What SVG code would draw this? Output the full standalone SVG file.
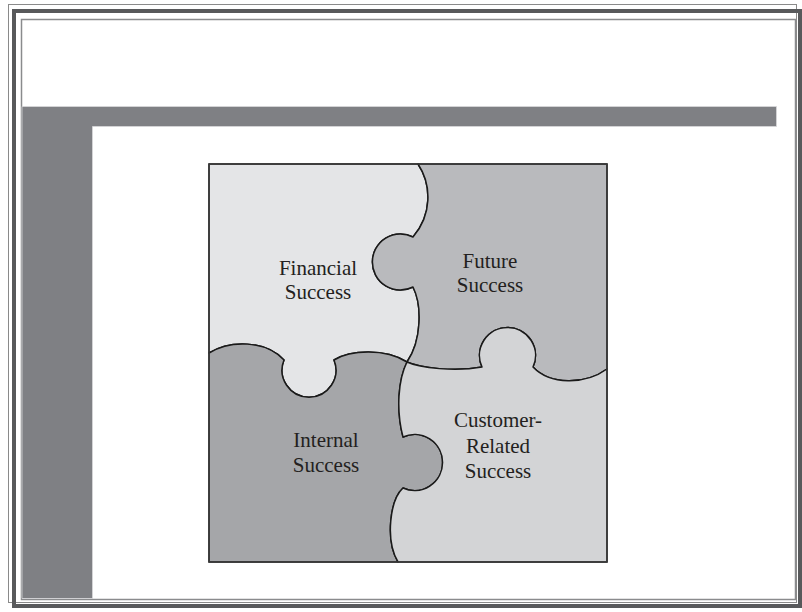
<svg xmlns="http://www.w3.org/2000/svg" width="802" height="612" viewBox="0 0 802 612">
<style>
.lbl{font-family:"Liberation Serif","Times New Roman",serif;font-size:21px;fill:#231f20;text-anchor:middle}
.piece{stroke:#1a1a1a;stroke-width:1.5;stroke-linejoin:round}
</style>
<rect x="0" y="0" width="802" height="612" fill="#ffffff"/>
<g id="frame">
<rect x="8.5" y="4.5" width="788" height="598" fill="none" stroke="#8a8a8a" stroke-width="1"/>
<rect x="14" y="11" width="786" height="595" fill="none" stroke="#58595b" stroke-width="4"/>
<rect x="21.5" y="19.5" width="774" height="580" fill="#ffffff" stroke="#8a8b8d" stroke-width="1.5"/>
<path d="M22,106.5 H776.5 V126.5 H92.5 V598.5 H22 Z" fill="#7f8084" stroke="#d8d8da" stroke-width="0.8"/>
</g>
<g id="financial">
<path class="piece" fill="#e4e5e7" d="M209,164 H418 C432,185 432,215 413,237 A28,28 0 1 0 413,287 C422,305 422,340 407,362 C385,348 350,350 334,360 A27,27 0 1 1 284,360 C265,340 230,340 209,353 Z"/>
<text class="lbl" x="318" y="274.5">Financial</text>
<text class="lbl" x="318" y="298.5">Success</text>
</g>
<g id="future">
<path class="piece" fill="#b9babd" d="M418,164 H607 V369 C585,385 550,385 533,367 A28,28 0 1 0 482,367 C455,372 420,368 407,362 C422,340 422,305 413,287 A28,28 0 1 1 413,237 C432,215 432,185 418,164 Z"/>
<text class="lbl" x="490" y="267.5">Future</text>
<text class="lbl" x="490" y="292">Success</text>
</g>
<g id="internal">
<path class="piece" fill="#a5a6a9" d="M209,353 C230,340 265,340 284,360 A27,27 0 1 0 334,360 C350,350 385,348 407,362 C398,380 396,410 403,437 A28,28 0 1 1 403,488 C390,500 385,540 398,562 H209 Z"/>
<text class="lbl" x="326" y="446.7">Internal</text>
<text class="lbl" x="326" y="471.7">Success</text>
</g>
<g id="customer">
<path class="piece" fill="#d3d4d6" d="M407,362 C420,368 455,372 482,367 A28,28 0 1 1 533,367 C550,385 585,385 607,369 V562 H398 C385,540 390,500 403,488 A28,28 0 1 0 403,437 C396,410 398,380 407,362 Z"/>
<text class="lbl" x="498" y="426.7">Customer-</text>
<text class="lbl" x="498" y="452.7">Related</text>
<text class="lbl" x="498" y="478.3">Success</text>
</g>
<g id="connectors">
<rect x="209" y="164" width="398" height="398" fill="none" stroke="#3a3a3a" stroke-width="1.5"/>
</g>
</svg>
